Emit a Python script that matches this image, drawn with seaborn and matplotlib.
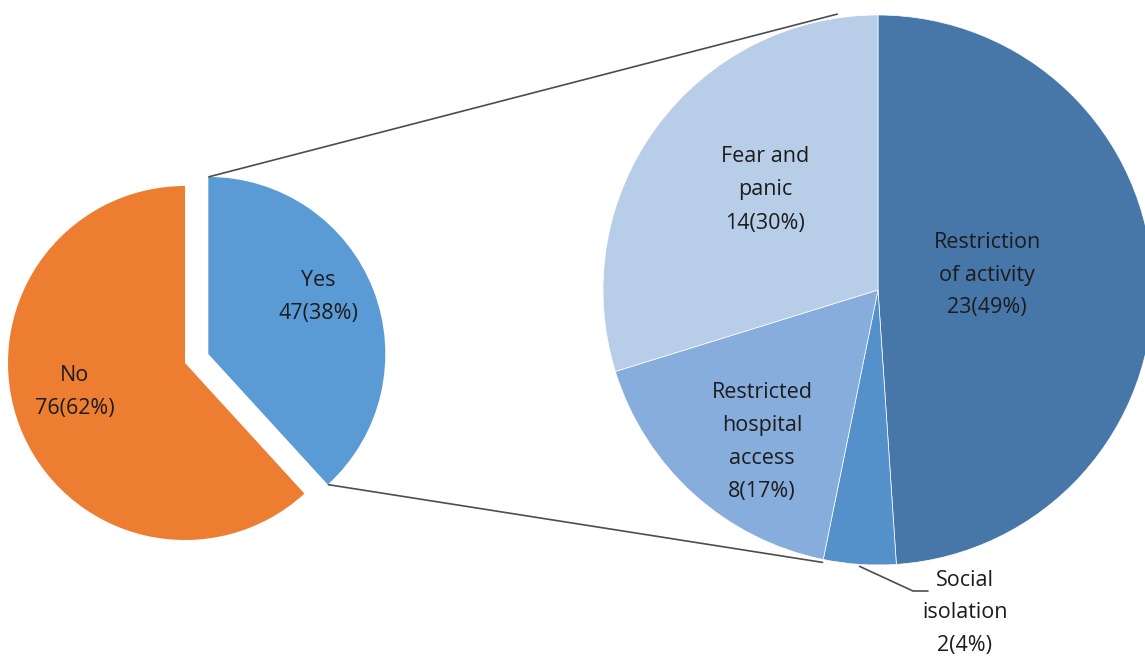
import numpy as np
import seaborn as sns
import matplotlib.pyplot as plt

# outer pie
outer_labels = ['No', 'Yes']
outer_counts = [76, 47]
outer_colors = ['#ED7D31', '#5B9BD5']

# breakdown of "Yes"
inner_labels = ['Restriction\nof activity', 'Social\nisolation',
                'Restricted\nhospital\naccess', 'Fear and\npanic']
inner_counts = [23, 2, 8, 14]
inner_colors = ['#4677A8', '#5490C9', '#86ADDC', '#B8CDE8']

W, H = 1145, 663

sns.set_theme(style='white')
plt.rcParams['font.family'] = ['Open Sans', 'DejaVu Sans']

fig = plt.figure(figsize=(W / 100, H / 100), dpi=100)
ax = fig.add_axes([0, 0, 1, 1])

txt_kw = dict(ha='center', va='center', fontsize=15.5, color='#1c1c1c',
              linespacing=1.75)


def pct(c, tot):
    return '%d(%d%%)' % (c, round(100 * c / tot))


# left pie (explode is in data units here)
r1 = 177
wl, _ = ax.pie(outer_counts, colors=outer_colors, startangle=90,
               counterclock=True, radius=r1, center=(185, H - 363),
               explode=[0, 25], frame=True,
               wedgeprops=dict(linewidth=0))

# right pie
r2 = 275
c2 = (878, H - 290)
wr, _ = ax.pie(inner_counts, colors=inner_colors, startangle=90,
               counterclock=False, radius=r2, center=c2, frame=True,
               wedgeprops=dict(edgecolor='white', linewidth=0.5))
ax.set_xlim(0, W)
ax.set_ylim(0, H)
ax.set_aspect('auto')
ax.axis('off')

# connector lines from the exploded slice to the second pie
yes = wl[1]
cx, cy = yes.center
a_top, a_bot = np.radians(yes.theta2), np.radians(yes.theta1)
p_top = (cx + r1 * np.cos(a_top), cy + r1 * np.sin(a_top))
p_bot = (cx + r1 * np.cos(a_bot), cy + r1 * np.sin(a_bot))
b_top = np.radians(98.4)
b_bot = np.radians(wr[1].theta1)
q_top = (c2[0] + r2 * np.cos(b_top), c2[1] + r2 * np.sin(b_top) + 4)
q_bot = (c2[0] + r2 * np.cos(b_bot), c2[1] + r2 * np.sin(b_bot) - 3)
for p, q in [(p_top, q_top), (p_bot, q_bot)]:
    ax.plot([p[0], q[0]], [p[1], q[1]], color='#4d4d4d', lw=1.2,
            solid_capstyle='butt')

# labels
tot1 = sum(outer_counts)
ax.text(75, H - 392, outer_labels[0] + '\n' + pct(outer_counts[0], tot1), **txt_kw)
ax.text(318, H - 297, outer_labels[1] + '\n' + pct(outer_counts[1], tot1), **txt_kw)

tot2 = sum(inner_counts)
inner_pos = [(987, 275), (965, 613), (762, 442), (765, 190)]
for lab, c, (x, y) in zip(inner_labels, inner_counts, inner_pos):
    ax.text(x, H - y, lab + '\n' + pct(c, tot2), **txt_kw)

# leader for the small slice
s = wr[1]
am = np.radians((s.theta1 + s.theta2) / 2)
p0 = (c2[0] + r2 * np.cos(am), c2[1] + r2 * np.sin(am) - 2)
ax.plot([p0[0], 913, 928], [p0[1], H - 591, H - 591], color='#4d4d4d', lw=1.2)

fig.savefig('out.png', dpi=100)
